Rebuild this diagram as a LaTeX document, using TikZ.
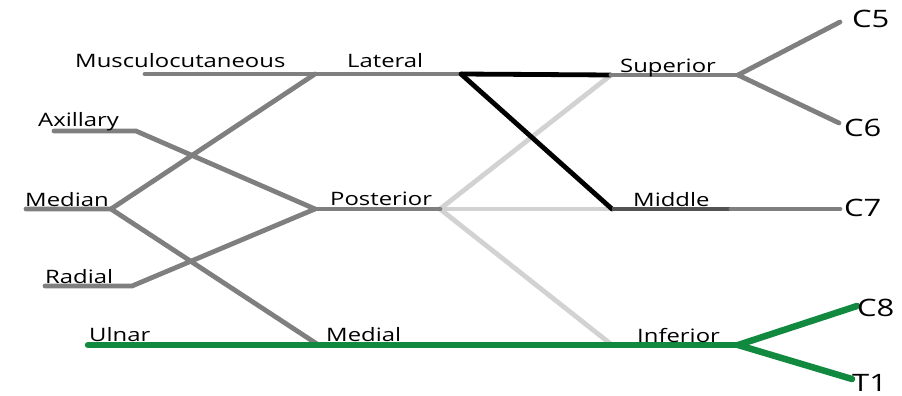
\documentclass[tikz,border=0pt]{standalone}
\usepackage{fontspec}
\setmainfont{Open Sans}[FakeStretch=1.29]
\begin{document}
\begin{tikzpicture}[x=1pt,y=-1pt,
  nerve/.style={line width=4.8pt,line cap=round,color=nervegray},
  faint/.style={line width=4.8pt,line cap=round,color=faintgray},
  cord/.style={line width=4.8pt,line cap=round,color=black},
  trunkdark/.style={line width=4.8pt,color=darkgray!90},
  ulnar/.style={line width=6.5pt,line cap=round,color=plexgreen},
  lbl/.style={anchor=base west,inner sep=0pt,font=\fontsize{18.5}{20}\selectfont},
  root/.style={anchor=base west,inner sep=0pt,font=\fontsize{24}{26}\selectfont}]
\definecolor{nervegray}{HTML}{7F7F7F}
\definecolor{faintgray}{HTML}{D2D2D2}
\definecolor{plexgreen}{HTML}{11893F}
\useasboundingbox (0,0) rectangle (902,396);

% junctions and free ends
\coordinate (mus0) at (145,74);
\coordinate (lat) at (315,74);
\coordinate (latE) at (461,74);
\coordinate (sup) at (611,75);
\coordinate (supJ) at (738,75);
\coordinate (c5e) at (840,22);
\coordinate (c6e) at (839,123);
\coordinate (axl0) at (54,131);
\coordinate (axl1) at (136,131);
\coordinate (post) at (315,209);
\coordinate (postE) at (440,209);
\coordinate (mid) at (612,209);
\coordinate (midJ) at (731,209);
\coordinate (c7e) at (840,209);
\coordinate (med0) at (26,209);
\coordinate (medJ) at (111,209);
\coordinate (medial) at (317,344);
\coordinate (rad0) at (45,286);
\coordinate (rad1) at (132,286);
\coordinate (uln0) at (88,345);
\coordinate (inf) at (612,345);
\coordinate (infJ) at (738,345);
\coordinate (c8e) at (857,306);
\coordinate (t1e) at (852,379);

% posterior cord branches
\draw[faint] (postE) -- (sup);
\draw[faint] (postE) -- (mid);
\draw[faint] (postE) -- (inf);

% terminal nerves and cords
\draw[nerve] (mus0) -- (lat) -- (latE);
\draw[nerve] (medJ) -- (lat);
\draw[nerve] (med0) -- (medJ) -- (medial);
\draw[nerve] (axl0) -- (axl1) -- (post);
\draw[nerve] (rad0) -- (rad1) -- (post);
\draw[nerve] (post) -- (postE);

% lateral cord divisions
\draw[cord,line cap=butt] (latE) -- (sup);
\draw[cord] (latE) -- (mid);

% trunks and roots
\draw[nerve] (sup) -- (supJ);
\draw[nerve] (supJ) -- (c5e);
\draw[nerve] (supJ) -- (c6e);
\draw[trunkdark] (mid) -- (midJ);
\draw[nerve] (midJ) -- (c7e);
\draw[ulnar] (uln0) -- (infJ);
\draw[ulnar] (infJ) -- (c8e);
\draw[ulnar] (infJ) -- (t1e);

% labels
\node[lbl] (tMus) at (75,67) {Musculocutaneous};
\node[lbl] (tLat) at (347,67) {Lateral};
\node[lbl] (tAxl) at (38,126) {Axillary};
\node[lbl] (tMed) at (25,206) {Median};
\node[lbl] (tRad) at (45,283) {Radial};
\node[lbl] (tPost) at (330,205) {Posterior};
\node[lbl] (tSup) at (620,73) {Superior};
\node[lbl] (tMid) at (633,206) {Middle};
\node[lbl] (tInf) at (637,342) {Inferior};
\node[lbl] (tUln) at (89,341) {Ulnar};
\node[lbl] (tMedl) at (326,341) {Medial};
\node[root] (tC5) at (852,28) {C5};
\node[root] (tC6) at (844,136) {C6};
\node[root] (tC7) at (844,216) {C7};
\node[root] (tC8) at (857,316) {C8};
\node[root] (tT1) at (852,391) {T1};
\end{tikzpicture}
\end{document}
